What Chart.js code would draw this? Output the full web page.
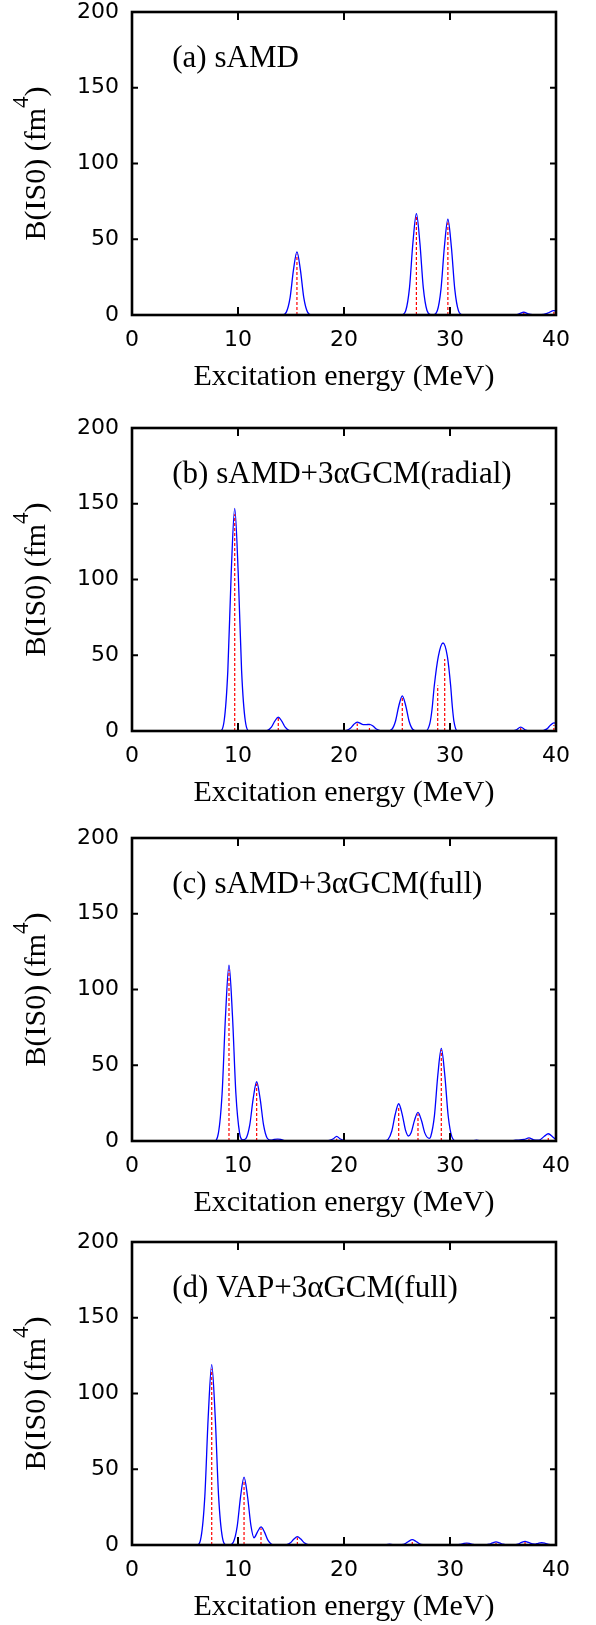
<!DOCTYPE html>
<html>
<head>
<meta charset="utf-8">
<script src="https://cdn.jsdelivr.net/npm/chart.js@4.4.1/dist/chart.umd.min.js"></script>
<style>
  body { margin: 0; background: #fff; width: 596px; height: 1625px; position: relative; overflow: hidden; }
  .panel { position: absolute; left: 0; width: 596px; height: 395px; }
</style>
</head>
<body>
<div class="panel" style="top:0px"><canvas id="chartA"></canvas></div>
<div class="panel" style="top:416px"><canvas id="chartB"></canvas></div>
<div class="panel" style="top:826px"><canvas id="chartC"></canvas></div>
<div class="panel" style="top:1230px"><canvas id="chartD"></canvas></div>
<script>
(() => {
  'use strict'

  // axis ticks
  const energyTicks = [0, 10, 20, 30, 40]
  const strengthTicks = [0, 50, 100, 150, 200]

  const panelTitles = [
    '(a) sAMD',
    '(b) sAMD+3αGCM(radial)',
    '(c) sAMD+3αGCM(full)',
    '(d) VAP+3αGCM(full)'
  ]

  // discrete transitions (red dashed), energy in MeV and B(IS0) in fm^4
  const levelsA = [15.56, 26.83, 29.8, 36.96, 39.8]
  const strengthA = [40, 65, 61, 1.5, 2.5]
  const levelsB = [9.69, 13.8, 21.25, 22.4, 25.5, 28.84, 29.5, 36.67, 39.8]
  const strengthB = [143, 9, 5, 3.5, 22, 30, 47.6, 2, 4]
  const levelsC = [9.15, 11.76, 13.74, 19.31, 25.16, 26.98, 29.18, 37.45, 39.27]
  const strengthC = [113, 38, 0.8, 1.5, 23, 18, 60, 1.5, 3.5]
  const levelsD = [7.52, 10.57, 12.17, 15.6, 26.44, 31.57, 34.34, 37.08]
  const strengthD = [116, 43, 11, 5, 3, 1, 1.5, 2]

  // smeared strength (blue), [energy, value]
  const curveA = [
    [0, 0], [14.16, 0], [14.56, 1.9], [14.91, 11.3], [15.23, 29.6], [15.56, 41.7], [15.89, 29.6], [16.21, 11.3], [16.56, 1.9], [16.96, 0],
    [25.43, 0], [25.83, 3.0], [26.18, 18.1], [26.5, 47.5], [26.83, 66.9], [27.16, 47.5], [27.48, 18.1], [27.83, 3.0], [28.2, 0.2],
    [28.4, 0.1], [28.8, 2.8], [29.15, 17.1], [29.47, 44.9], [29.8, 63.2], [30.13, 44.9], [30.45, 17.1], [30.8, 2.8], [31.2, 0],
    [36.1, 0], [36.5, 0.7], [36.96, 1.8], [37.4, 0.7], [37.8, 0.3], [38.6, 0.3], [39.2, 1.2], [39.8, 2.9], [40, 2.6]
  ]
  const curveB = [
    [0, 0], [8.29, 0], [8.69, 6.6], [9.04, 39.7], [9.36, 104.3], [9.69, 146.9], [10.02, 104.3], [10.34, 39.7], [10.69, 6.6], [11.09, 0],
    [12.4, 0], [12.8, 0.4], [13.15, 2.5], [13.47, 6.5], [13.8, 9.2], [14.13, 6.5], [14.45, 2.5], [14.8, 0.4], [15.2, 0],
    [19.85, 0], [20.25, 0.4], [20.6, 1.8], [20.92, 4.3], [21.25, 5.9], [21.55, 5.0], [21.8, 4.2], [22.1, 4.2], [22.4, 4.4], [22.73, 3.3], [23.05, 1.3], [23.4, 0.3], [23.8, 0],
    [24.1, 0], [24.5, 1.0], [24.85, 6.3], [25.17, 16.5], [25.5, 23.2], [25.83, 16.5], [26.15, 6.3], [26.5, 1.0], [26.9, 0],
    [27.7, 0], [28.1, 5], [28.3, 14], [28.52, 30], [28.9, 49.3], [29.34, 58.1], [29.75, 49.3], [30.06, 30], [30.22, 16], [30.38, 6], [30.7, 0],
    [35.7, 0], [36.2, 0.6], [36.67, 2.6], [37.15, 0.6], [37.6, 0],
    [38.4, 0], [38.8, 0.3], [39.15, 1.4], [39.47, 3.8], [39.8, 5.3], [40, 5.0]
  ]
  const curveC = [
    [0, 0], [7.75, 0], [8.15, 5.2], [8.5, 31.3], [8.82, 82.4], [9.15, 116], [9.48, 82.4], [9.8, 31.3], [10.15, 5.2], [10.45, 0.8],
    [10.76, 1.8], [11.11, 10.6], [11.43, 27.8], [11.76, 39.1], [12.09, 27.8], [12.41, 10.6], [12.76, 1.8], [13.1, 0.5], [13.4, 1.0], [13.74, 1.3], [14.1, 0.9], [14.6, 0],
    [18.2, 0], [18.7, 0.6], [19.0, 1.5], [19.31, 3.1], [19.62, 1.5], [19.9, 0.6], [20.4, 0],
    [23.76, 0], [24.16, 1.1], [24.51, 6.6], [24.83, 17.5], [25.16, 24.6], [25.49, 17.6], [25.81, 7.0], [26.07, 3.3], [26.33, 5.4], [26.65, 13.6], [26.98, 18.9],
    [27.31, 13.5], [27.63, 5.2], [28.05, 1.7], [28.18, 2.9], [28.53, 16.6], [28.85, 43.4], [29.18, 61.1], [29.51, 43.4], [29.83, 16.5], [30.18, 2.7], [30.58, 0],
    [32.0, 0], [32.5, 0.5], [33.0, 0], [35.5, 0], [36.2, 0.5], [37.0, 1.0], [37.45, 2.0], [37.9, 0.8], [38.4, 0.6], [38.9, 3.1], [39.27, 4.8], [39.7, 2.7], [40, 0.9]
  ]
  const curveD = [
    [0, 0], [6.12, 0], [6.52, 5.4], [6.87, 32.1], [7.19, 84.5], [7.52, 119], [7.85, 84.5], [8.17, 32.1], [8.52, 5.4], [8.92, 0],
    [9.17, 0], [9.57, 2.0], [9.92, 12.1], [10.24, 31.8], [10.57, 44.8], [10.9, 32.0], [11.22, 12.8], [11.51, 4.8], [11.84, 8.7], [12.17, 11.9], [12.5, 8.5], [12.82, 3.2], [13.17, 0.5], [13.57, 0],
    [14.2, 0], [14.6, 0.25], [14.95, 1.5], [15.27, 3.9], [15.6, 5.5], [15.93, 3.9], [16.25, 1.5], [16.6, 0.25], [17.0, 0],
    [21.8, 0], [22.46, 0.3], [23.1, 0], [23.7, 0], [24.3, 0.5], [24.9, 0],
    [25.04, 0], [25.44, 0.16], [25.79, 0.95], [26.11, 2.5], [26.44, 3.5], [26.77, 2.5], [27.09, 0.95], [27.44, 0.16], [27.84, 0],
    [28.1, 0], [28.7, 0.3], [29.3, 0],
    [30.5, 0], [30.92, 0.35], [31.24, 0.9], [31.57, 1.3], [31.9, 0.9], [32.22, 0.35], [32.6, 0],
    [33.3, 0], [33.69, 0.5], [34.01, 1.4], [34.34, 2.0], [34.67, 1.4], [34.99, 0.5], [35.4, 0],
    [36.1, 0], [36.43, 0.6], [36.75, 1.7], [37.08, 2.4], [37.41, 1.7], [37.8, 0.7], [38.05, 0.6], [38.32, 1.1], [38.65, 1.5], [38.98, 1.1], [39.3, 0.4], [39.7, 0.05], [40, 0]
  ]

  const serif = '"Liberation Serif", "Times New Roman", serif'
  const sans = '"DejaVu Sans", sans-serif'

  // vertical line segments from 0 up to each strength, broken by nulls
  const stickPoints = (levels, strengths) => {
    const pts = []
    levels.forEach((e, i) => {
      pts.push({ x: e, y: 0 }, { x: e, y: strengths[i] }, { x: e, y: null })
    })
    return pts
  }

  const framePlugin = {
    id: 'frame',
    afterDatasetsDraw (chart, args, opts) {
      const { ctx, chartArea: a, scales } = chart
      ctx.save()
      ctx.strokeStyle = '#000'
      ctx.lineWidth = 2
      ctx.beginPath()
      energyTicks.forEach(v => {
        const px = scales.x.getPixelForValue(v)
        ctx.moveTo(px, a.bottom); ctx.lineTo(px, a.bottom - 8)
        ctx.moveTo(px, a.top); ctx.lineTo(px, a.top + 8)
      })
      strengthTicks.forEach(v => {
        const py = scales.y.getPixelForValue(v)
        ctx.moveTo(a.left, py); ctx.lineTo(a.left + 6, py)
        ctx.moveTo(a.right, py); ctx.lineTo(a.right - 6, py)
      })
      ctx.stroke()
      ctx.lineWidth = 2.6
      ctx.strokeRect(a.left, a.top, a.right - a.left, a.bottom - a.top)

      // panel label
      ctx.fillStyle = '#000'
      ctx.font = '31px ' + serif
      ctx.textBaseline = 'alphabetic'
      ctx.textAlign = 'left'
      ctx.fillText(opts.label, scales.x.getPixelForValue(3.8), scales.y.getPixelForValue(164))

      // y title with superscript
      const main = 'B(IS0) (fm'
      const sup = '4'
      const tail = ')'
      ctx.font = '30px ' + serif
      const w1 = ctx.measureText(main).width
      const w3 = ctx.measureText(tail).width
      ctx.font = '23px ' + serif
      const w2 = ctx.measureText(sup).width
      const total = w1 + w2 + w3
      ctx.translate(45, (a.top + a.bottom) / 2)
      ctx.rotate(-Math.PI / 2)
      let x = -total / 2
      ctx.font = '30px ' + serif
      ctx.fillText(main, x, 0)
      x += w1
      ctx.font = '23px ' + serif
      ctx.fillText(sup, x, -17)
      x += w2
      ctx.font = '30px ' + serif
      ctx.fillText(tail, x, 0)
      ctx.restore()
    }
  }

  const makeChart = (id, label, levels, strengths, curve) => {
    return new Chart(document.getElementById(id), {
      type: 'line',
      data: {
        datasets: [{
          data: stickPoints(levels, strengths),
          borderColor: '#ff0000',
          borderWidth: 1.2,
          borderDash: [3, 2],
          pointRadius: 0,
          spanGaps: false,
          tension: 0
        }, {
          data: curve.map(p => ({ x: p[0], y: p[1] })),
          borderColor: '#0000ff',
          borderWidth: 1.3,
          pointRadius: 0,
          cubicInterpolationMode: 'monotone'
        }]
      },
      options: {
        responsive: true,
        maintainAspectRatio: false,
        animation: false,
        layout: { padding: { top: 12, right: 40, left: 0, bottom: 0 } },
        scales: {
          x: {
            type: 'linear',
            min: 0,
            max: 40,
            afterBuildTicks: s => { s.ticks = energyTicks.map(v => ({ value: v })) },
            afterFit: s => { s.height = 80 },
            grid: { display: false, drawTicks: false },
            border: { display: false },
            ticks: { color: '#000', font: { family: sans, size: 22 }, padding: 12, maxRotation: 0 },
            title: {
              display: true,
              text: 'Excitation energy (MeV)',
              color: '#000',
              font: { family: serif, size: 30 },
              padding: { top: 0, bottom: 0 }
            }
          },
          y: {
            type: 'linear',
            min: 0,
            max: 200,
            afterBuildTicks: s => { s.ticks = strengthTicks.map(v => ({ value: v })) },
            afterFit: s => {
              s.width = 132
              s.paddingTop = 0
              s.paddingBottom = 0
            },
            grid: { display: false, drawTicks: false },
            border: { display: false },
            ticks: { color: '#000', font: { family: sans, size: 22 }, padding: 13 }
          }
        },
        plugins: {
          legend: { display: false },
          tooltip: { enabled: false },
          frame: { label: label }
        }
      },
      plugins: [framePlugin]
    })
  }

  makeChart('chartA', panelTitles[0], levelsA, strengthA, curveA)
  makeChart('chartB', panelTitles[1], levelsB, strengthB, curveB)
  makeChart('chartC', panelTitles[2], levelsC, strengthC, curveC)
  makeChart('chartD', panelTitles[3], levelsD, strengthD, curveD)
})()
</script>
</body>
</html>
